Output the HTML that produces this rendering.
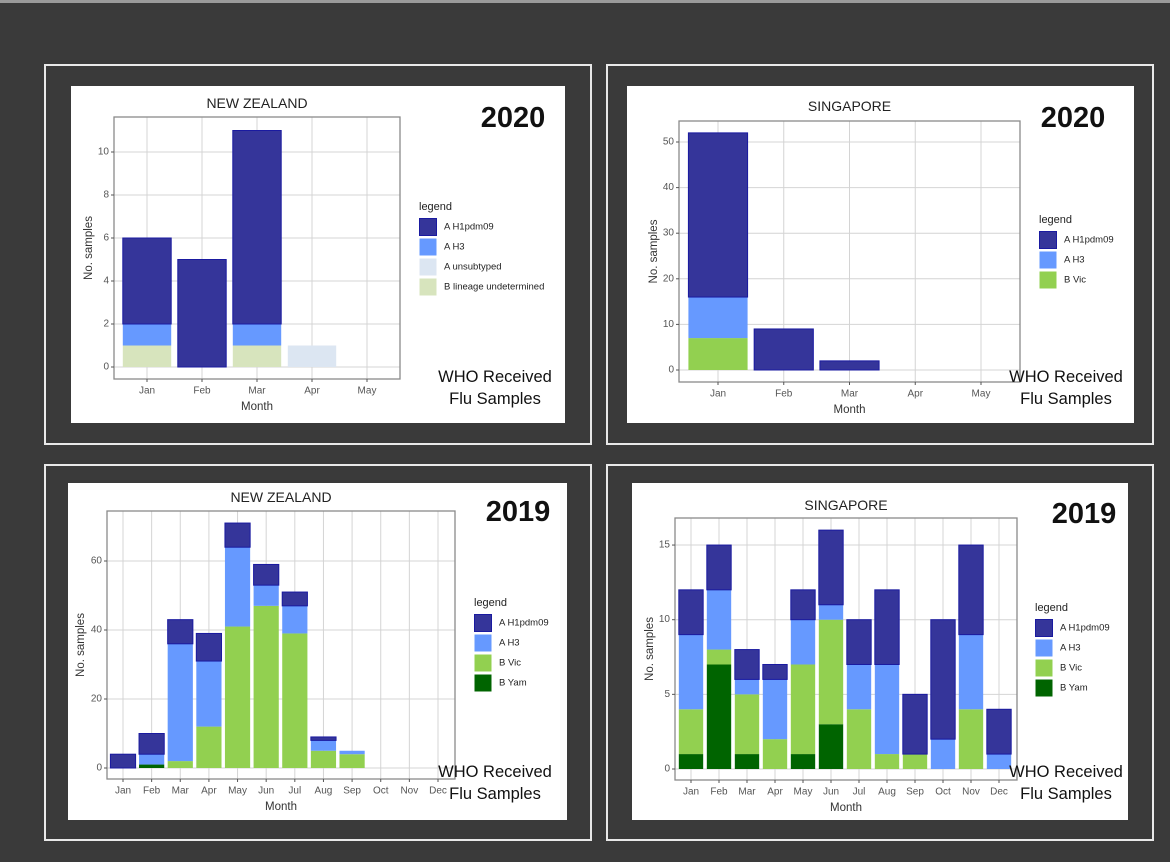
<!DOCTYPE html>
<html><head><meta charset="utf-8"><style>
html,body{margin:0;padding:0;background:#3a3a3a;width:1170px;height:862px;overflow:hidden}
svg{display:block;font-family:"Liberation Sans",sans-serif}
</style></head><body>
<svg id="root" width="1170" height="862" viewBox="0 0 1170 862">
<rect x="0" y="0" width="1170" height="862" fill="#3a3a3a"/>
<rect x="0" y="0" width="1170" height="3" fill="#9a9a9a"/>
</svg>
<script>
// ---- NZ 2020 data ----
const nz20Months = ["Jan","Feb","Mar","Apr","May"];
const nz20H1 = [4,5,9,0,0];
const nz20H3 = [1,0,1,0,0];
const nz20Unsub = [0,0,0,1,0];
const nz20BUnd = [1,0,1,0,0];
const nz20Ticks = [0,2,4,6,8,10];
// ---- SG 2020 data ----
const sg20Months = ["Jan","Feb","Mar","Apr","May"];
const sg20H1 = [36,9,2,0,0];
const sg20H3 = [9,0,0,0,0];
const sg20Vic = [7,0,0,0,0];
const sg20Ticks = [0,10,20,30,40,50];
// ---- NZ 2019 data ----
const nz19Months = ["Jan","Feb","Mar","Apr","May","Jun","Jul","Aug","Sep","Oct","Nov","Dec"];
const nz19H1 = [4,6,7,8,7,6,4,1,0,0,0,0];
const nz19H3 = [0,3,34,19,23,6,8,3,1,0,0,0];
const nz19Vic = [0,0,2,12,41,47,39,5,4,0,0,0];
const nz19Yam = [0,1,0,0,0,0,0,0,0,0,0,0];
const nz19Ticks = [0,20,40,60];
// ---- SG 2019 data ----
const sg19Months = ["Jan","Feb","Mar","Apr","May","Jun","Jul","Aug","Sep","Oct","Nov","Dec"];
const sg19H1 = [3,3,2,1,2,5,3,5,4,8,6,3];
const sg19H3 = [5,4,1,4,3,1,3,6,0,2,5,1];
const sg19Vic = [3,1,4,2,6,7,4,1,1,0,4,0];
const sg19Yam = [1,7,1,0,1,3,0,0,0,0,0,0];
const sg19Ticks = [0,5,10,15];

const C = {h1:"#35359a",h3:"#6699ff",unsub:"#dce6f2",bund:"#d7e4bd",vic:"#92d050",yam:"#006400"};
const NS="http://www.w3.org/2000/svg";
const root=document.getElementById('root');
function mk(tag,attrs,parent){const e=document.createElementNS(NS,tag);for(const k in attrs)e.setAttribute(k,attrs[k]);(parent||root).appendChild(e);return e;}
function txt(parent,x,y,s,size,opts){const t=mk('text',Object.assign({x:x,y:y,'font-size':size,fill:'#222','text-anchor':'middle','dominant-baseline':'central'},opts||{}),parent);t.textContent=s;return t;}

function panel(cfg){
  const g=mk('g',{});
  
  
  const f=cfg.frame;
  mk('rect',{x:f[0],y:f[1],width:f[2]-f[0],height:f[3]-f[1],fill:'#3a3a3a',stroke:'#e8e8e8','stroke-width':2},g);
  const w=cfg.white;
  mk('rect',{x:w[0],y:w[1],width:w[2]-w[0],height:w[3]-w[1],fill:'#fff'},g);
  const p=cfg.plot;
  const n=cfg.months.length;
  const step=(cfg.last-cfg.first)/(n-1);
  const xc=i=>cfg.first+i*step;
  const yv=v=>cfg.zero-(v)*cfg.ppu;
  // grid
  const grid=mk('g',{},g);
  
  
  cfg.ticks.forEach(t=>{mk('line',{x1:p[0],x2:p[2],y1:yv(t),y2:yv(t),stroke:'#d4d4d4','stroke-width':1},grid);});
  cfg.months.forEach((m,i)=>{mk('line',{x1:xc(i),x2:xc(i),y1:p[1],y2:p[3],stroke:'#d4d4d4','stroke-width':1},grid);});
  // bars
  const bw=step*cfg.bwf;
  cfg.months.forEach((m,i)=>{
    let base=0;
    cfg.series.forEach(s=>{
      const v=s.vals[i]; if(!v) return;
      const r=mk('rect',{x:xc(i)-bw/2,y:yv(base+v),width:bw,height:v*cfg.ppu,fill:s.color,stroke:s.stroke||'none','stroke-width':s.stroke?1:0},g);
      
      
      base+=v;
    });
  });
  mk('rect',{x:p[0],y:p[1],width:p[2]-p[0],height:p[3]-p[1],fill:'none',stroke:'#8a8a8a','stroke-width':1.3},g);
  // ticks
  cfg.ticks.forEach(t=>{
    mk('line',{x1:p[0]-3,x2:p[0],y1:yv(t),y2:yv(t),stroke:'#555'},g);
    const tl=txt(g,p[0]-5,yv(t),String(t),10,{'text-anchor':'end',fill:'#555'});
    
    
  });
  cfg.months.forEach((m,i)=>{
    mk('line',{x1:xc(i),x2:xc(i),y1:p[3],y2:p[3]+3,stroke:'#555'},g);
    const tl=txt(g,xc(i),p[3]+12,m,10,{fill:'#555'});
    
    
  });
  const tt=txt(g,(p[0]+p[2])/2,cfg.titleY,cfg.title,14,{fill:'#222'});
  
  
  const xt=txt(g,(p[0]+p[2])/2,p[3]+28,'Month',11.5,{fill:'#333'});
  
  
  const yt=txt(g,cfg.yTitleX,(p[1]+p[3])/2,'No. samples',11.5,{fill:'#333',transform:`rotate(-90 ${cfg.yTitleX} ${(p[1]+p[3])/2})`});
  
  
  // legend
  const L=cfg.legend;
  const lg=mk('g',{},g);
  
  
  txt(lg,L[0],L[1],'legend',11,{'text-anchor':'start',fill:'#222'});
  cfg.legendItems.forEach((it,k)=>{
    const y0=L[1]+11+k*20;
    const e=mk('g',{},lg);
    
    
    mk('rect',{x:L[0]+0.5,y:y0+0.5,width:17,height:17,fill:it.color,stroke:it.stroke||'none'},e);
    txt(e,L[0]+25,y0+9,it.label,9.5,{'text-anchor':'start',fill:'#222'});
  });
  const yr=txt(g,cfg.year[0],cfg.year[1],cfg.yearText,29,{'font-weight':'bold',fill:'#111'});
  
  
  const wh=mk('g',{},g);
  
  
  txt(wh,cfg.who[0],cfg.who[1],'WHO Received',16.5,{fill:'#111'});
  txt(wh,cfg.who[0],cfg.who[1]+22,'Flu Samples',16.5,{fill:'#111'});
}
const H1={key:'h1',color:C.h1,stroke:'#1a1aa0'};
panel({name:'nz-2020-panel',frame:[45,65,591,444],white:[71,86,565,423],plot:[114,117,400,379],
  months:nz20Months,first:147,last:367,zero:367,ppu:21.5,bwf:0.88,ticks:nz20Ticks,titleY:103,yTitleX:89,
  series:[{key:'bund',color:C.bund,vals:nz20BUnd},{key:'unsub',color:C.unsub,vals:nz20Unsub},{key:'h3',color:C.h3,vals:nz20H3},Object.assign({vals:nz20H1},H1)],
  title:'NEW ZEALAND',legend:[419,207],legendItems:[{label:'A H1pdm09',color:C.h1,stroke:'#1a1aa0'},{label:'A H3',color:C.h3},{label:'A unsubtyped',color:C.unsub},{label:'B lineage undetermined',color:C.bund}],
  year:[513,118],yearText:'2020',who:[495,377]});
panel({name:'sg-2020-panel',frame:[607,65,1153,444],white:[627,86,1134,423],plot:[679,121,1020,382],
  months:sg20Months,first:718,last:981,zero:370,ppu:4.56,bwf:0.9,ticks:sg20Ticks,titleY:106,yTitleX:654,
  series:[{key:'vic',color:C.vic,vals:sg20Vic},{key:'h3',color:C.h3,vals:sg20H3},Object.assign({vals:sg20H1},H1)],
  title:'SINGAPORE',legend:[1039,220],legendItems:[{label:'A H1pdm09',color:C.h1,stroke:'#1a1aa0'},{label:'A H3',color:C.h3},{label:'B Vic',color:C.vic}],
  year:[1073,118],yearText:'2020',who:[1066,377]});
panel({name:'nz-2019-panel',frame:[45,465,591,840],white:[68,483,567,820],plot:[107,511,455,779],
  months:nz19Months,first:123,last:438,zero:768,ppu:3.45,bwf:0.88,ticks:nz19Ticks,titleY:497,yTitleX:81,
  series:[{key:'yam',color:C.yam,vals:nz19Yam},{key:'vic',color:C.vic,vals:nz19Vic},{key:'h3',color:C.h3,vals:nz19H3},Object.assign({vals:nz19H1},H1)],
  title:'NEW ZEALAND',legend:[474,603],legendItems:[{label:'A H1pdm09',color:C.h1,stroke:'#1a1aa0'},{label:'A H3',color:C.h3},{label:'B Vic',color:C.vic},{label:'B Yam',color:C.yam}],
  year:[518,512],yearText:'2019',who:[495,772]});
panel({name:'sg-2019-panel',frame:[607,465,1153,840],white:[632,483,1128,820],plot:[675,518,1017,780],
  months:sg19Months,first:691,last:999,zero:769,ppu:14.93,bwf:0.87,ticks:sg19Ticks,titleY:505,yTitleX:650,
  series:[{key:'yam',color:C.yam,vals:sg19Yam},{key:'vic',color:C.vic,vals:sg19Vic},{key:'h3',color:C.h3,vals:sg19H3},Object.assign({vals:sg19H1},H1)],
  title:'SINGAPORE',legend:[1035,608],legendItems:[{label:'A H1pdm09',color:C.h1,stroke:'#1a1aa0'},{label:'A H3',color:C.h3},{label:'B Vic',color:C.vic},{label:'B Yam',color:C.yam}],
  year:[1084,514],yearText:'2019',who:[1066,772]});
</script>
</body></html>
